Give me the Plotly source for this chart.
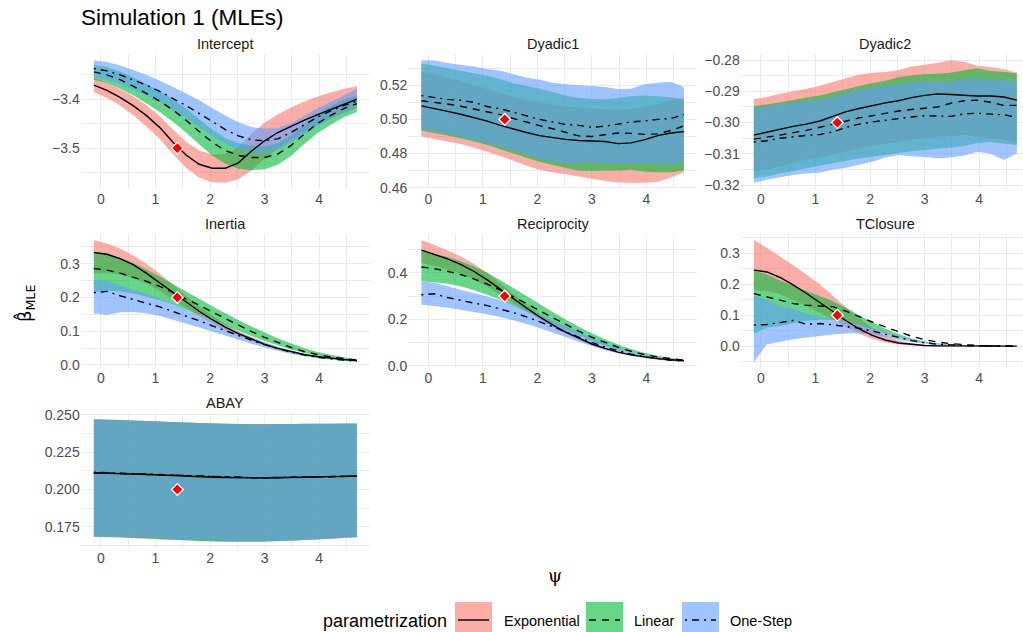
import plotly.graph_objects as go

# ---------------------------------------------------------------------------
# Data: psi grid, estimates (mean, lower, upper) per covariate and method
# ---------------------------------------------------------------------------
PSI = [-0.13, 0.11, 0.35, 0.59, 0.83, 1.08, 1.32, 1.56, 1.80, 2.04, 2.28,
       2.52, 2.76, 3.00, 3.24, 3.48, 3.72, 3.96, 4.21, 4.45, 4.69]

PANEL_NAMES = ["Intercept", "Dyadic1", "Dyadic2", "Inertia",
               "Reciprocity", "TClosure", "ABAY"]
TRUE_VALUES = [-3.5, 0.5, -0.3, 0.2, 0.3, 0.1, 0.2]
PSI_TRUE = 1.4
METHODS = ["Exponential", "Linear", "One-Step"]

# Intercept
INT_EXP = [-3.371, -3.382, -3.396, -3.413, -3.433, -3.458, -3.488, -3.514, -3.533, -3.541, -3.541,
           -3.530, -3.506, -3.485, -3.468, -3.455, -3.443, -3.432, -3.421, -3.410, -3.400]
INT_EXP_LO = [-3.385, -3.397, -3.413, -3.432, -3.455, -3.482, -3.512, -3.540, -3.560, -3.570, -3.571,
              -3.563, -3.545, -3.522, -3.500, -3.482, -3.466, -3.452, -3.440, -3.428, -3.418]
INT_EXP_HI = [-3.356, -3.366, -3.379, -3.394, -3.412, -3.435, -3.462, -3.487, -3.505, -3.513, -3.512,
              -3.498, -3.470, -3.448, -3.431, -3.417, -3.405, -3.395, -3.386, -3.379, -3.373]
INT_LIN = [-3.344, -3.350, -3.360, -3.373, -3.388, -3.404, -3.422, -3.443, -3.466, -3.488, -3.505,
           -3.515, -3.519, -3.519, -3.512, -3.495, -3.472, -3.450, -3.433, -3.419, -3.409]
INT_LIN_LO = [-3.360, -3.367, -3.378, -3.392, -3.408, -3.426, -3.446, -3.468, -3.492, -3.515, -3.532,
              -3.542, -3.545, -3.543, -3.534, -3.516, -3.492, -3.470, -3.452, -3.437, -3.426]
INT_LIN_HI = [-3.330, -3.334, -3.343, -3.355, -3.369, -3.383, -3.400, -3.419, -3.441, -3.462, -3.480,
              -3.490, -3.495, -3.496, -3.490, -3.474, -3.452, -3.430, -3.414, -3.401, -3.392]
INT_OS = [-3.337, -3.342, -3.350, -3.360, -3.371, -3.384, -3.398, -3.413, -3.429, -3.446, -3.462,
          -3.475, -3.483, -3.485, -3.481, -3.468, -3.452, -3.437, -3.424, -3.413, -3.404]
INT_OS_LO = [-3.354, -3.360, -3.369, -3.380, -3.392, -3.406, -3.422, -3.439, -3.457, -3.475, -3.491,
             -3.503, -3.509, -3.510, -3.503, -3.488, -3.471, -3.455, -3.440, -3.426, -3.414]
INT_OS_HI = [-3.320, -3.324, -3.331, -3.340, -3.350, -3.362, -3.375, -3.388, -3.402, -3.418, -3.433,
             -3.447, -3.457, -3.460, -3.459, -3.449, -3.434, -3.419, -3.405, -3.393, -3.378]

# Dyadic1
DY1_EXP = [0.5079, 0.5065, 0.5047, 0.5030, 0.5010, 0.4990, 0.4965, 0.4943, 0.4923, 0.4905, 0.4893,
           0.4883, 0.4876, 0.4871, 0.4870, 0.4858, 0.4862, 0.4880, 0.4905, 0.4920, 0.4928]
DY1_EXP_LO = [0.4899, 0.4885, 0.4870, 0.4855, 0.4835, 0.4810, 0.4785, 0.4758, 0.4730, 0.4705, 0.4690,
              0.4678, 0.4665, 0.4652, 0.4640, 0.4630, 0.4628, 0.4628, 0.4635, 0.4660, 0.4690]
DY1_EXP_HI = [0.5281, 0.5265, 0.5245, 0.5225, 0.5200, 0.5178, 0.5155, 0.5133, 0.5115, 0.5100, 0.5085,
              0.5075, 0.5068, 0.5063, 0.5060, 0.5058, 0.5062, 0.5073, 0.5090, 0.5110, 0.5130]
DY1_LIN = [0.5109, 0.5100, 0.5090, 0.5077, 0.5062, 0.5047, 0.5028, 0.5005, 0.4983, 0.4963, 0.4945,
           0.4925, 0.4903, 0.4900, 0.4912, 0.4920, 0.4918, 0.4912, 0.4915, 0.4935, 0.4962]
DY1_LIN_LO = [0.4935, 0.4920, 0.4905, 0.4890, 0.4872, 0.4850, 0.4825, 0.4800, 0.4775, 0.4752, 0.4733,
              0.4715, 0.4700, 0.4697, 0.4700, 0.4700, 0.4705, 0.4695, 0.4690, 0.4690, 0.4700]
DY1_LIN_HI = [0.5327, 0.5315, 0.5300, 0.5285, 0.5270, 0.5255, 0.5235, 0.5212, 0.5195, 0.5180, 0.5160,
              0.5140, 0.5125, 0.5120, 0.5118, 0.5125, 0.5135, 0.5140, 0.5135, 0.5130, 0.5117]
DY1_OS = [0.5139, 0.5128, 0.5117, 0.5112, 0.5100, 0.5075, 0.5062, 0.5042, 0.5020, 0.5000, 0.4985,
          0.4970, 0.4965, 0.4953, 0.4960, 0.4972, 0.4985, 0.4990, 0.5000, 0.5005, 0.5028]
DY1_OS_LO = [0.4940, 0.4930, 0.4915, 0.4900, 0.4880, 0.4860, 0.4840, 0.4820, 0.4795, 0.4770, 0.4755,
             0.4745, 0.4745, 0.4747, 0.4742, 0.4740, 0.4745, 0.4740, 0.4738, 0.4735, 0.4740]
DY1_OS_HI = [0.5347, 0.5345, 0.5330, 0.5320, 0.5310, 0.5295, 0.5285, 0.5265, 0.5245, 0.5232, 0.5215,
             0.5205, 0.5200, 0.5196, 0.5190, 0.5178, 0.5180, 0.5205, 0.5215, 0.5220, 0.5190]

# Dyadic2
DY2_EXP = [-0.3040, -0.3030, -0.3020, -0.3012, -0.3005, -0.2995, -0.2980, -0.2965, -0.2955, -0.2945, -0.2937,
           -0.2930, -0.2920, -0.2913, -0.2908, -0.2910, -0.2913, -0.2915, -0.2915, -0.2918, -0.2928]
DY2_EXP_LO = [-0.3157, -0.3150, -0.3140, -0.3130, -0.3120, -0.3112, -0.3102, -0.3092, -0.3083, -0.3075, -0.3068,
              -0.3062, -0.3055, -0.3050, -0.3045, -0.3042, -0.3040, -0.3045, -0.3050, -0.3055, -0.3066]
DY2_EXP_HI = [-0.2925, -0.2918, -0.2908, -0.2900, -0.2892, -0.2882, -0.2870, -0.2858, -0.2847, -0.2840, -0.2838,
              -0.2832, -0.2820, -0.2815, -0.2808, -0.2800, -0.2805, -0.2818, -0.2822, -0.2828, -0.2840]
DY2_LIN = [-0.3053, -0.3047, -0.3040, -0.3032, -0.3025, -0.3015, -0.3005, -0.2995, -0.2985, -0.2978, -0.2970,
           -0.2963, -0.2958, -0.2955, -0.2950, -0.2938, -0.2930, -0.2928, -0.2935, -0.2945, -0.2945]
DY2_LIN_LO = [-0.3179, -0.3172, -0.3163, -0.3155, -0.3146, -0.3138, -0.3130, -0.3122, -0.3115, -0.3109, -0.3103,
              -0.3097, -0.3092, -0.3088, -0.3084, -0.3080, -0.3075, -0.3065, -0.3062, -0.3068, -0.3072]
DY2_LIN_HI = [-0.2947, -0.2942, -0.2935, -0.2928, -0.2920, -0.2913, -0.2903, -0.2893, -0.2883, -0.2874, -0.2866,
              -0.2855, -0.2848, -0.2845, -0.2843, -0.2840, -0.2832, -0.2826, -0.2835, -0.2838, -0.2842]
DY2_OS = [-0.3062, -0.3058, -0.3050, -0.3045, -0.3041, -0.3038, -0.3030, -0.3015, -0.3005, -0.2998, -0.2992,
          -0.2988, -0.2982, -0.2978, -0.2978, -0.2980, -0.2972, -0.2970, -0.2973, -0.2975, -0.2983]
DY2_OS_LO = [-0.3193, -0.3183, -0.3175, -0.3168, -0.3163, -0.3160, -0.3150, -0.3145, -0.3135, -0.3125, -0.3112,
             -0.3104, -0.3108, -0.3110, -0.3114, -0.3112, -0.3105, -0.3093, -0.3100, -0.3120, -0.3098]
DY2_OS_HI = [-0.2952, -0.2948, -0.2942, -0.2936, -0.2930, -0.2926, -0.2918, -0.2905, -0.2895, -0.2888, -0.2882,
             -0.2877, -0.2872, -0.2868, -0.2867, -0.2868, -0.2860, -0.2858, -0.2862, -0.2864, -0.2870]

# Inertia
INE_EXP = [0.333, 0.328, 0.315, 0.297, 0.272, 0.243, 0.214, 0.186, 0.159, 0.134, 0.112,
           0.093, 0.076, 0.061, 0.049, 0.039, 0.031, 0.025, 0.020, 0.016, 0.013]
INE_EXP_LO = [0.271, 0.272, 0.268, 0.258, 0.241, 0.219, 0.194, 0.169, 0.145, 0.123, 0.103,
              0.086, 0.071, 0.057, 0.046, 0.037, 0.029, 0.023, 0.019, 0.015, 0.012]
INE_EXP_HI = [0.370, 0.360, 0.345, 0.325, 0.300, 0.270, 0.238, 0.205, 0.174, 0.146, 0.121,
              0.100, 0.082, 0.066, 0.053, 0.042, 0.033, 0.026, 0.021, 0.017, 0.014]
INE_LIN = [0.286, 0.281, 0.272, 0.261, 0.248, 0.233, 0.215, 0.196, 0.177, 0.157, 0.137,
           0.118, 0.099, 0.082, 0.066, 0.052, 0.040, 0.031, 0.024, 0.018, 0.014]
INE_LIN_LO = [0.216, 0.220, 0.218, 0.212, 0.203, 0.192, 0.179, 0.164, 0.149, 0.133, 0.117,
              0.101, 0.086, 0.071, 0.058, 0.046, 0.036, 0.028, 0.022, 0.017, 0.013]
INE_LIN_HI = [0.336, 0.330, 0.318, 0.302, 0.283, 0.262, 0.240, 0.218, 0.196, 0.174, 0.153,
              0.133, 0.114, 0.096, 0.079, 0.064, 0.050, 0.039, 0.030, 0.023, 0.017]
INE_OS = [0.214, 0.218, 0.205, 0.193, 0.183, 0.172, 0.159, 0.146, 0.131, 0.116, 0.101,
          0.087, 0.073, 0.060, 0.048, 0.038, 0.030, 0.023, 0.018, 0.014, 0.011]
INE_OS_LO = [0.153, 0.148, 0.156, 0.157, 0.153, 0.145, 0.134, 0.123, 0.111, 0.099, 0.087,
             0.075, 0.063, 0.052, 0.042, 0.033, 0.026, 0.020, 0.016, 0.012, 0.009]
INE_OS_HI = [0.251, 0.250, 0.236, 0.222, 0.210, 0.196, 0.181, 0.165, 0.148, 0.131, 0.114,
             0.098, 0.082, 0.067, 0.054, 0.043, 0.034, 0.026, 0.020, 0.016, 0.012]

# Reciprocity
REC_EXP = [0.498, 0.480, 0.460, 0.437, 0.407, 0.370, 0.329, 0.289, 0.249, 0.211, 0.176,
           0.145, 0.118, 0.094, 0.075, 0.059, 0.047, 0.038, 0.031, 0.026, 0.022]
REC_EXP_LO = [0.443, 0.430, 0.415, 0.397, 0.372, 0.340, 0.305, 0.269, 0.233, 0.199, 0.167,
              0.138, 0.112, 0.089, 0.071, 0.056, 0.045, 0.036, 0.030, 0.025, 0.021]
REC_EXP_HI = [0.541, 0.520, 0.497, 0.471, 0.439, 0.399, 0.354, 0.309, 0.265, 0.223, 0.186,
              0.153, 0.124, 0.099, 0.079, 0.062, 0.049, 0.040, 0.032, 0.027, 0.023]
REC_LIN = [0.425, 0.418, 0.407, 0.393, 0.374, 0.352, 0.326, 0.298, 0.268, 0.237, 0.207,
           0.177, 0.149, 0.123, 0.100, 0.080, 0.063, 0.049, 0.038, 0.030, 0.024]
REC_LIN_LO = [0.364, 0.360, 0.353, 0.342, 0.326, 0.306, 0.284, 0.260, 0.234, 0.208, 0.181,
              0.155, 0.131, 0.108, 0.088, 0.070, 0.055, 0.043, 0.034, 0.027, 0.021]
REC_LIN_HI = [0.494, 0.483, 0.468, 0.450, 0.428, 0.400, 0.368, 0.335, 0.300, 0.266, 0.232,
              0.199, 0.168, 0.140, 0.114, 0.092, 0.072, 0.056, 0.043, 0.034, 0.027]
REC_OS = [0.306, 0.310, 0.294, 0.281, 0.270, 0.259, 0.245, 0.229, 0.211, 0.191, 0.169,
          0.146, 0.123, 0.101, 0.081, 0.064, 0.050, 0.039, 0.030, 0.024, 0.020]
REC_OS_LO = [0.263, 0.258, 0.250, 0.241, 0.232, 0.222, 0.210, 0.196, 0.180, 0.163, 0.144,
             0.124, 0.104, 0.085, 0.068, 0.054, 0.042, 0.033, 0.026, 0.021, 0.017]
REC_OS_HI = [0.364, 0.358, 0.342, 0.327, 0.313, 0.298, 0.282, 0.263, 0.242, 0.219, 0.195,
             0.169, 0.143, 0.118, 0.095, 0.075, 0.058, 0.045, 0.035, 0.027, 0.022]

# TClosure
TCL_EXP = [0.246, 0.240, 0.222, 0.198, 0.171, 0.142, 0.112, 0.082, 0.056, 0.035, 0.020,
           0.010, 0.005, 0.002, 0.001, 0.0005, 0.0002, 0.0001, 0.0, 0.0, 0.0]
TCL_EXP_LO = [0.181, 0.178, 0.168, 0.150, 0.130, 0.108, 0.085, 0.062, 0.040, 0.024, 0.012,
              0.005, 0.002, 0.001, 0.0, 0.0, 0.0, 0.0, 0.0, 0.0, 0.0]
TCL_EXP_HI = [0.343, 0.318, 0.290, 0.262, 0.232, 0.199, 0.163, 0.125, 0.090, 0.058, 0.034,
              0.018, 0.009, 0.004, 0.002, 0.001, 0.0005, 0.0002, 0.0001, 0.0, 0.0]
TCL_LIN = [0.170, 0.160, 0.148, 0.138, 0.132, 0.130, 0.128, 0.113, 0.095, 0.078, 0.062,
           0.046, 0.032, 0.021, 0.013, 0.008, 0.004, 0.002, 0.001, 0.0005, 0.0]
TCL_LIN_LO = [0.040, 0.060, 0.065, 0.075, 0.082, 0.085, 0.085, 0.080, 0.068, 0.055, 0.042,
              0.030, 0.020, 0.012, 0.007, 0.004, 0.002, 0.001, 0.0005, 0.0, 0.0]
TCL_LIN_HI = [0.245, 0.232, 0.212, 0.195, 0.178, 0.162, 0.145, 0.124, 0.100, 0.077, 0.056,
              0.039, 0.025, 0.015, 0.009, 0.005, 0.003, 0.002, 0.001, 0.0005, 0.0]
TCL_OS = [0.068, 0.070, 0.076, 0.083, 0.071, 0.073, 0.069, 0.064, 0.058, 0.049, 0.038,
          0.027, 0.018, 0.011, 0.006, 0.004, 0.002, 0.001, 0.0005, 0.0, 0.0]
TCL_OS_LO = [-0.051, 0.006, 0.014, 0.022, 0.028, 0.033, 0.038, 0.041, 0.042, 0.038, 0.030,
             0.021, 0.014, 0.008, 0.004, 0.002, 0.001, 0.0, 0.0, 0.0, 0.0]
TCL_OS_HI = [0.165, 0.150, 0.128, 0.122, 0.105, 0.095, 0.088, 0.080, 0.070, 0.058, 0.045,
             0.033, 0.022, 0.014, 0.008, 0.005, 0.003, 0.002, 0.001, 0.0, 0.0]

# ABAY
ABA_EXP = [0.2112, 0.2110, 0.2108, 0.2105, 0.2101, 0.2097, 0.2093, 0.2088, 0.2085, 0.2082, 0.2080,
           0.2078, 0.2077, 0.2077, 0.2078, 0.2080, 0.2083, 0.2085, 0.2087, 0.2088, 0.2089]
ABA_EXP_LO = [0.1684, 0.1682, 0.1679, 0.1676, 0.1672, 0.1668, 0.1664, 0.1660, 0.1657, 0.1655, 0.1653,
              0.1652, 0.1652, 0.1653, 0.1655, 0.1658, 0.1662, 0.1666, 0.1671, 0.1676, 0.1681]
ABA_EXP_HI = [0.2468, 0.2466, 0.2464, 0.2461, 0.2458, 0.2455, 0.2451, 0.2448, 0.2445, 0.2442, 0.2440,
              0.2438, 0.2437, 0.2437, 0.2437, 0.2438, 0.2438, 0.2439, 0.2439, 0.2440, 0.2440]
ABA_LIN = [0.2110, 0.2110, 0.2107, 0.2104, 0.2101, 0.2098, 0.2094, 0.2090, 0.2087, 0.2084, 0.2081,
           0.2080, 0.2078, 0.2078, 0.2079, 0.2081, 0.2083, 0.2085, 0.2087, 0.2088, 0.2089]
ABA_LIN_LO = [0.1686, 0.1683, 0.1680, 0.1676, 0.1672, 0.1668, 0.1664, 0.1660, 0.1656, 0.1653, 0.1651,
              0.1650, 0.1651, 0.1653, 0.1656, 0.1659, 0.1663, 0.1667, 0.1672, 0.1677, 0.1682]
ABA_LIN_HI = [0.2470, 0.2467, 0.2464, 0.2461, 0.2458, 0.2454, 0.2450, 0.2447, 0.2444, 0.2441, 0.2439,
              0.2437, 0.2436, 0.2436, 0.2437, 0.2438, 0.2439, 0.2440, 0.2440, 0.2441, 0.2441]
ABA_OS = [0.2115, 0.2112, 0.2109, 0.2106, 0.2103, 0.2099, 0.2095, 0.2091, 0.2088, 0.2085, 0.2082,
          0.2080, 0.2079, 0.2079, 0.2080, 0.2082, 0.2084, 0.2086, 0.2088, 0.2089, 0.2089]
ABA_OS_LO = [0.1686, 0.1685, 0.1683, 0.1681, 0.1678, 0.1674, 0.1670, 0.1666, 0.1662, 0.1659, 0.1656,
             0.1654, 0.1653, 0.1653, 0.1655, 0.1658, 0.1662, 0.1666, 0.1671, 0.1676, 0.1681]
ABA_OS_HI = [0.2466, 0.2465, 0.2463, 0.2460, 0.2457, 0.2454, 0.2450, 0.2447, 0.2444, 0.2441, 0.2439,
             0.2437, 0.2436, 0.2436, 0.2437, 0.2438, 0.2439, 0.2440, 0.2440, 0.2441, 0.2441]

# (mean, lower, upper) per method, per panel
SERIES = [
    [(INT_EXP, INT_EXP_LO, INT_EXP_HI), (INT_LIN, INT_LIN_LO, INT_LIN_HI), (INT_OS, INT_OS_LO, INT_OS_HI)],
    [(DY1_EXP, DY1_EXP_LO, DY1_EXP_HI), (DY1_LIN, DY1_LIN_LO, DY1_LIN_HI), (DY1_OS, DY1_OS_LO, DY1_OS_HI)],
    [(DY2_EXP, DY2_EXP_LO, DY2_EXP_HI), (DY2_LIN, DY2_LIN_LO, DY2_LIN_HI), (DY2_OS, DY2_OS_LO, DY2_OS_HI)],
    [(INE_EXP, INE_EXP_LO, INE_EXP_HI), (INE_LIN, INE_LIN_LO, INE_LIN_HI), (INE_OS, INE_OS_LO, INE_OS_HI)],
    [(REC_EXP, REC_EXP_LO, REC_EXP_HI), (REC_LIN, REC_LIN_LO, REC_LIN_HI), (REC_OS, REC_OS_LO, REC_OS_HI)],
    [(TCL_EXP, TCL_EXP_LO, TCL_EXP_HI), (TCL_LIN, TCL_LIN_LO, TCL_LIN_HI), (TCL_OS, TCL_OS_LO, TCL_OS_HI)],
    [(ABA_EXP, ABA_EXP_LO, ABA_EXP_HI), (ABA_LIN, ABA_LIN_LO, ABA_LIN_HI), (ABA_OS, ABA_OS_LO, ABA_OS_HI)],
]

# ---------------------------------------------------------------------------
# Styling
# ---------------------------------------------------------------------------
W, H = 1023, 632
FONT = "Liberation Sans, Arial, Helvetica, sans-serif"
FILLS = ["rgba(248,118,109,0.6)", "rgba(0,186,56,0.6)", "rgba(97,156,255,0.6)"]
DASHES = ["solid", "7px,6px", "2px,5px,7px,5px"]
GRID = "#EBEBEB"

# per-panel y tick spacing and number format
Y_DTICK = [0.1, 0.02, 0.01, 0.1, 0.2, 0.1, 0.025]
Y_FMT = [".1f", ".2f", ".2f", ".1f", ".1f", ".1f", ".3f"]

# panel boxes in pixels: columns (left, right), rows (top, bottom)
COL_PX = [(80.7, 370.0), (408.3, 697.0), (740.7, 1030.0)]
ROW_PX = [(54.0, 189.0), (234.0, 368.0), (413.0, 548.0)]


def px_x(v):
    return v / W


def px_y(v):
    return 1 - v / H


span = max(PSI) - min(PSI)
X_RANGE = [min(PSI) - 0.05 * span, max(PSI) + 0.05 * span]

fig = go.Figure()
layout = dict(
    width=W, height=H,
    margin=dict(l=0, r=0, t=0, b=0),
    paper_bgcolor="white", plot_bgcolor="white",
    showlegend=False,
    font=dict(family=FONT, color="#4D4D4D", size=14),
)
annotations = []
shapes = []

for p, name in enumerate(PANEL_NAMES):
    r, c = divmod(p, 3)
    xa = "x" if p == 0 else f"x{p + 1}"
    ya = "y" if p == 0 else f"y{p + 1}"
    xkey = "xaxis" if p == 0 else f"xaxis{p + 1}"
    ykey = "yaxis" if p == 0 else f"yaxis{p + 1}"

    # ribbons (drawn first, in method order)
    for m, (mean, lo, hi) in enumerate(SERIES[p]):
        fig.add_trace(go.Scatter(
            x=PSI + PSI[::-1], y=hi + lo[::-1],
            fill="toself", fillcolor=FILLS[m], mode="none",
            hoverinfo="skip", xaxis=xa, yaxis=ya,
        ))
    # estimate lines
    for m, (mean, lo, hi) in enumerate(SERIES[p]):
        fig.add_trace(go.Scatter(
            x=PSI, y=mean, mode="lines", name=METHODS[m],
            line=dict(color="black", width=1.4, dash=DASHES[m]),
            xaxis=xa, yaxis=ya,
        ))
    # true parameter value
    fig.add_trace(go.Scatter(
        x=[PSI_TRUE], y=[TRUE_VALUES[p]], mode="markers",
        marker=dict(symbol="diamond", size=9, color="red",
                    line=dict(color="white", width=1.3)),
        xaxis=xa, yaxis=ya,
    ))

    # axis ranges: ggplot-style 5% expansion around the data
    vals = [v for trio in SERIES[p] for arr in trio for v in arr]
    ylo, yhi = min(vals), max(vals)
    ys = yhi - ylo
    y_range = [ylo - 0.05 * ys, yhi + 0.05 * ys]

    left, right = COL_PX[c]
    top, bottom = ROW_PX[r]
    x_range = list(X_RANGE)
    dom_right = right
    if right > W:
        frac = (W - left) / (right - left)
        x_range[1] = X_RANGE[0] + frac * (X_RANGE[1] - X_RANGE[0])
        dom_right = W

    layout[xkey] = dict(
        domain=[px_x(left), px_x(dom_right)], range=x_range, anchor=ya,
        tick0=0, dtick=1, showgrid=True, gridcolor=GRID, gridwidth=1.1,
        minor=dict(dtick=0.5, tick0=0, showgrid=True, gridcolor=GRID, gridwidth=0.55),
        zeroline=False, showline=False, ticks="", automargin=False,
        tickfont=dict(family=FONT, size=14, color="#4D4D4D"),
    )
    layout[ykey] = dict(
        domain=[px_y(bottom), px_y(top)], range=y_range, anchor=xa,
        tick0=0, dtick=Y_DTICK[p], tickformat=Y_FMT[p],
        showgrid=True, gridcolor=GRID, gridwidth=1.1,
        minor=dict(dtick=Y_DTICK[p] / 2, tick0=0, showgrid=True, gridcolor=GRID, gridwidth=0.55),
        zeroline=False, showline=False, ticks="", automargin=False,
        tickfont=dict(family=FONT, size=14, color="#4D4D4D"),
    )

    # facet strip label
    annotations.append(dict(
        text=name, xref="paper", yref="paper",
        x=px_x((left + right) / 2), y=px_y(top - 10),
        xanchor="center", yanchor="middle", showarrow=False,
        font=dict(family=FONT, size=14.5, color="#1A1A1A"),
    ))

# title
annotations.append(dict(
    text="Simulation 1 (MLEs)", xref="paper", yref="paper",
    x=px_x(79), y=px_y(17), xanchor="left", yanchor="middle", showarrow=False,
    font=dict(family=FONT, size=22.5, color="black"),
))
# axis titles
annotations.append(dict(
    text="ψ", xref="paper", yref="paper",
    x=px_x(555), y=px_y(575), xanchor="center", yanchor="middle", showarrow=False,
    font=dict(family="DejaVu Serif, serif", size=18, color="black"),
))
annotations.append(dict(
    text="β\u0302<sub>MLE</sub>", xref="paper", yref="paper",
    x=px_x(25), y=px_y(304), xanchor="center", yanchor="middle", showarrow=False,
    textangle=-90, font=dict(family="DejaVu Sans, sans-serif", size=18, color="black"),
))

# legend drawn as keys + labels along the bottom
annotations.append(dict(
    text="parametrization", xref="paper", yref="paper",
    x=px_x(321), y=px_y(621), xanchor="left", yanchor="middle", showarrow=False,
    font=dict(family=FONT, size=18, color="black"),
))
KEY_X = [455, 586, 682]
LABEL_X = [502, 632, 728]
for m, label in enumerate(METHODS):
    kx = KEY_X[m]
    shapes.append(dict(
        type="rect", xref="paper", yref="paper",
        x0=px_x(kx), x1=px_x(kx + 37), y0=px_y(639), y1=px_y(602),
        fillcolor=FILLS[m], line=dict(width=0), layer="above",
    ))
    shapes.append(dict(
        type="line", xref="paper", yref="paper",
        x0=px_x(kx + 3), x1=px_x(kx + 34), y0=px_y(620), y1=px_y(620),
        line=dict(color="black", width=1.4, dash=DASHES[m]), layer="above",
    ))
    annotations.append(dict(
        text=label, xref="paper", yref="paper",
        x=px_x(LABEL_X[m]), y=px_y(621), xanchor="left", yanchor="middle",
        showarrow=False, font=dict(family=FONT, size=14.5, color="black"),
    ))

layout["annotations"] = annotations
layout["shapes"] = shapes
fig.update_layout(**layout)

fig.write_html("out.html")
